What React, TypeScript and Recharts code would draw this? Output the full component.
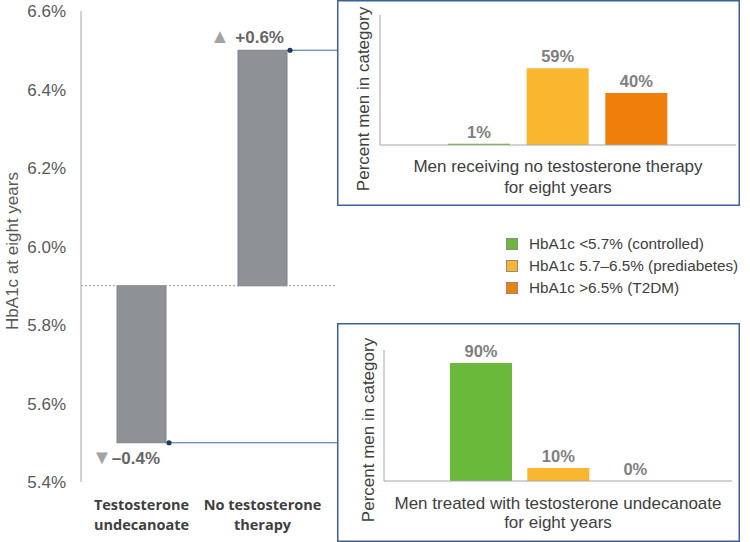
import { BarChart, Bar, XAxis, YAxis, ReferenceLine, ReferenceDot, Cell, LabelList } from 'recharts';

const groups = ['Testosterone undecanoate', 'No testosterone therapy'];
const groupLines = [
  ['Testosterone', 'undecanoate'],
  ['No testosterone', 'therapy'],
];
const baselineHba1c = 5.9;
const hba1cAtEightYears = [5.5, 6.5];
const yTicks = [5.4, 5.6, 5.8, 6.0, 6.2, 6.4, 6.6];

const hba1cCategories = [
  'HbA1c <5.7% (controlled)',
  'HbA1c 5.7–6.5% (prediabetes)',
  'HbA1c >6.5% (T2DM)',
];
const categoryColors = ['#6ab93a', '#fbb62f', '#f07e0a'];
const noTherapyShares = [1, 59, 40];
const treatedShares = [90, 10, 0];

const FONT = '"Liberation Sans", Arial, sans-serif';
const BOX_LEFT = 337;
const valueStyle = { fontFamily: FONT, fontSize: 16.5, fontWeight: 'bold' as const, fill: '#7f7f7f' };

const mainData = groups.map((g, i) => ({
  name: g,
  range: [baselineHba1c, hba1cAtEightYears[i]],
}));

function ChangeBar(props: any) {
  const { x, y, width, height, index } = props;
  const top = Math.min(y, y + height);
  const bottom = Math.max(y, y + height);
  const h = Math.abs(height);
  const delta = hba1cAtEightYears[index] - baselineHba1c;
  const up = delta > 0;
  const text = (up ? '+' : '–') + Math.abs(delta).toFixed(1) + '%';
  const right = x + width;
  const dotY = up ? top : bottom;
  return (
    <g>
      <rect x={x} y={top} width={width} height={h} fill="#8e9196" stroke="#7f8288" strokeWidth={1} />
      <line x1={right + 3} y1={dotY} x2={BOX_LEFT} y2={dotY} stroke="#3d6aa0" strokeWidth={1.2} />
      <circle cx={right + 3} cy={dotY} r={2.6} fill="#1f3864" />
      {up ? (
        <text x={right - 3} y={top - 7} textAnchor="end" fontFamily={FONT} fontSize={17} fontWeight="bold" fill="#666">
          <tspan fill="#a3a3a3" fontSize={20}>▲ </tspan>
          <tspan>{text}</tspan>
        </text>
      ) : (
        <text x={right - 6} y={bottom + 21} textAnchor="end" fontFamily={FONT} fontSize={17} fontWeight="bold" fill="#666">
          <tspan fill="#a3a3a3" fontSize={20}>▼</tspan>
          <tspan>{text}</tspan>
        </text>
      )}
    </g>
  );
}

function GroupTick(props: any) {
  const { x, y, index } = props;
  const lines = groupLines[index] || [];
  return (
    <text x={x} textAnchor="middle" fontFamily='"Open Sans", sans-serif' fontSize={14.5} fontWeight="bold" fill="#404040">
      {lines.map((l, i) => (
        <tspan key={i} x={x} y={y + 20 + i * 20}>
          {l}
        </tspan>
      ))}
    </text>
  );
}

function ShareLabel(props: any) {
  const { x, y, width, value } = props;
  if (!value) return null;
  return (
    <text x={x + width / 2} y={y - 6} textAnchor="middle" style={valueStyle}>
      {`${value}%`}
    </text>
  );
}

interface InsetProps {
  top: number;
  width: number;
  height: number;
  shares: number[];
  axisX: number;
  plotTop: number;
  plotBottom: number;
  plotRight: number;
  pad: number;
  yLabelX: number;
  yLabelY: number;
  titleLines: string[];
  titleY: number[];
}

function Inset(p: InsetProps) {
  const data = hba1cCategories.map((c, i) => ({ name: c, value: p.shares[i] }));
  const cx = (p.axisX + p.plotRight) / 2;
  return (
    <div style={{ position: 'absolute', left: BOX_LEFT, top: p.top, width: p.width, height: p.height, background: '#fff' }}>
      <BarChart
        width={p.width}
        height={p.height}
        data={data}
        margin={{ top: p.plotTop, right: p.width - p.plotRight, bottom: p.height - p.plotBottom, left: 0 }}
      >
        <XAxis
          dataKey="name"
          tick={false}
          tickLine={false}
          axisLine={{ stroke: '#a6a6a6' }}
          padding={{ left: p.pad, right: p.pad }}
          height={1}
        />
        <YAxis
          width={p.axisX}
          domain={[0, 100]}
          tick={false}
          tickLine={false}
          axisLine={{ stroke: '#a6a6a6' }}
        />
        <Bar dataKey="value" barSize={62} isAnimationActive={false}>
          {data.map((d, i) => (
            <Cell key={d.name} fill={categoryColors[i]} />
          ))}
          <LabelList dataKey="value" content={<ShareLabel />} />
        </Bar>
        {data
          .filter((d) => d.value === 0)
          .map((d) => (
            <ReferenceDot
              key={d.name}
              x={d.name}
              y={0}
              r={0}
              fill="none"
              stroke="none"
              label={{ value: `${d.value}%`, position: 'top', offset: 6, style: valueStyle }}
            />
          ))}
      </BarChart>
      <svg width={p.width} height={p.height} style={{ position: 'absolute', left: 0, top: 0, pointerEvents: 'none' }}>
        <text
          x={p.yLabelX}
          y={p.yLabelY}
          transform={`rotate(-90 ${p.yLabelX} ${p.yLabelY})`}
          textAnchor="middle"
          dominantBaseline="central"
          fontFamily={FONT}
          fontSize={17}
          fill="#404040"
        >
          Percent men in category
        </text>
        <text textAnchor="middle" fontFamily={FONT} fontSize={17} fill="#404040">
          {p.titleLines.map((l, i) => (
            <tspan key={i} x={cx} y={p.titleY[i]}>
              {l}
            </tspan>
          ))}
        </text>
        <rect x={0.75} y={0.75} width={p.width - 1.5} height={p.height - 1.5} fill="none" stroke="#3a6299" strokeWidth={1.5} />
      </svg>
    </div>
  );
}

export default function App() {
  return (
    <div style={{ position: 'absolute', left: 0, top: 0, width: 750, height: 542, background: '#fff', fontFamily: FONT }}>
      <div style={{ position: 'absolute', left: 0, top: 0 }}>
        <BarChart
          width={340}
          height={542}
          data={mainData}
          margin={{ top: 11, right: 4, bottom: 0, left: 0 }}
          style={{ overflow: 'visible' }}
        >
          <XAxis
            dataKey="name"
            axisLine={false}
            tickLine={false}
            interval={0}
            tick={<GroupTick />}
            padding={{ left: 0, right: 13 }}
            height={60}
          />
          <YAxis
            width={81}
            domain={[5.4, 6.6]}
            ticks={yTicks}
            interval={0}
            tickFormatter={(v: number) => `${v.toFixed(1)}%`}
            tick={{ fontSize: 17, fill: '#595959', fontFamily: FONT }}
            tickLine={false}
            tickMargin={9}
            axisLine={{ stroke: '#a6a6a6' }}
          />
          <ReferenceLine y={baselineHba1c} stroke="#9a9a9a" strokeDasharray="2 2" />
          <Bar dataKey="range" barSize={49} isAnimationActive={false} shape={<ChangeBar />} />
        </BarChart>
        <svg width={30} height={542} style={{ position: 'absolute', left: 0, top: 0 }}>
          <text
            x={12}
            y={251}
            transform="rotate(-90 12 251)"
            textAnchor="middle"
            dominantBaseline="central"
            fontFamily={FONT}
            fontSize={17}
            fill="#595959"
          >
            HbA1c at eight years
          </text>
        </svg>
      </div>

      <Inset
        top={0}
        width={403}
        height={206}
        shares={noTherapyShares}
        axisX={43}
        plotTop={15}
        plotBottom={146}
        plotRight={399}
        pad={60}
        yLabelX={26}
        yLabelY={99}
        titleLines={['Men receiving no testosterone therapy', 'for eight years']}
        titleY={[172, 193]}
      />

      <div style={{ position: 'absolute', left: 506, top: 233 }}>
        {hba1cCategories.map((c, i) => (
          <div key={c} style={{ display: 'flex', alignItems: 'center', height: 22, fontSize: 15.3, color: '#404040' }}>
            <span
              style={{
                width: 10,
                height: 10,
                background: categoryColors[i],
                border: '1px solid #8c8c8c',
                marginRight: 11,
                display: 'inline-block',
              }}
            />
            {c}
          </div>
        ))}
      </div>

      <Inset
        top={323}
        width={403}
        height={219}
        shares={treatedShares}
        axisX={47}
        plotTop={27}
        plotBottom={159}
        plotRight={395}
        pad={58}
        yLabelX={31}
        yLabelY={107}
        titleLines={['Men treated with testosterone undecanoate', 'for eight years']}
        titleY={[186, 205]}
      />
    </div>
  );
}
